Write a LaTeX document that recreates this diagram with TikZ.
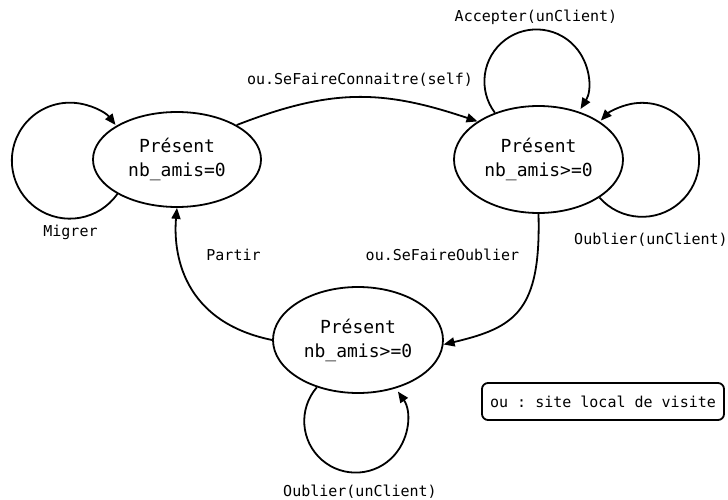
\documentclass[tikz,border=0pt]{standalone}
\usepackage{fontspec}
\setmonofont{DejaVu Sans Mono}
\usetikzlibrary{shapes.geometric,arrows.meta}
\tikzset{
  state/.style={draw, ellipse, line width=1.8pt, inner sep=0pt, align=center,
    font=\fontsize{18}{24}\selectfont\ttfamily},
  lbl/.style={anchor=base, inner sep=0pt, font=\fontsize{15}{18}\selectfont\ttfamily},
  conn/.style={line width=1.8pt, -{Triangle[length=11pt,width=9pt]}},
  notebox/.style={draw, line width=1.8pt, rounded corners=6pt, inner sep=0pt,
    minimum width=242pt, minimum height=37pt, font=\fontsize{15}{18}\selectfont\ttfamily}
}
\begin{document}
\begin{tikzpicture}[x=1pt,y=1pt]
\useasboundingbox (0,0) rectangle (728,-500);
% states
\node[state, minimum width=168pt, minimum height=95pt] (A) at (177,-159.5) {Présent\\nb\_amis=0};
\node[state, minimum width=169pt, minimum height=107pt] (B) at (538.5,-159.5) {Présent\\nb\_amis>=0};
\node[state, minimum width=170pt, minimum height=106pt] (C) at (358,-340) {Présent\\nb\_amis>=0};
% note
\node[notebox] (note) at (603,-401.5) {ou : site local de visite};
% transitions
\draw[conn] (A.30) .. controls +(95,37) and +(-95,32) .. (B.148);
\draw[conn] (A.210) arc[start angle=-35, end angle=-322, radius=58pt];
\draw[conn] (B.133) arc[start angle=217, end angle=-32, radius=52pt];
\draw[conn] (B.-32) arc[start angle=-138.5, end angle=136.5, radius=57pt];
\draw[conn] (B.-90) .. controls +(2.5,-97) and +(72,17) .. (C.-3);
\draw[conn] (C.west) .. controls +(-98,20) and +(-3,-33) .. (A.-90);
\draw[conn] (C.229) arc[start angle=139, end angle=395, radius=51.5pt];
% labels
\node[lbl] (lconn) at (360,-85) {ou.SeFaireConnaitre(self)};
\node[lbl] (lacc) at (536,-22) {Accepter(unClient)};
\node[lbl] (lmig) at (70.5,-236) {Migrer};
\node[lbl] (loub1) at (651,-244) {Oublier(unClient)};
\node[lbl] (lpart) at (233.5,-260) {Partir};
\node[lbl] (lsfo) at (442.5,-260) {ou.SeFaireOublier};
\node[lbl] (loub2) at (360,-496) {Oublier(unClient)};
\end{tikzpicture}
\end{document}
